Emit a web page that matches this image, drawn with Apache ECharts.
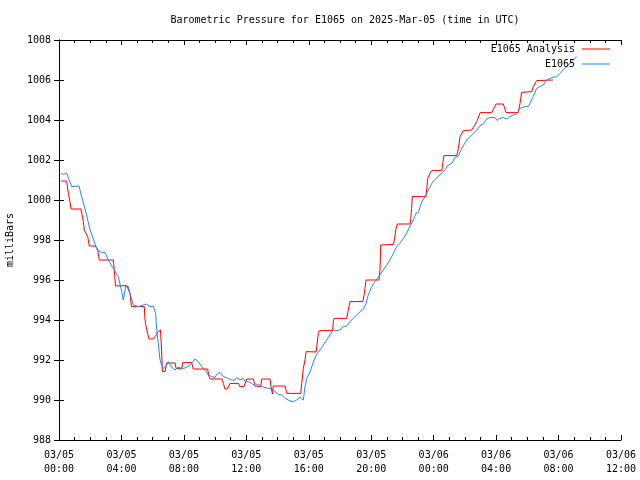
<!DOCTYPE html>
<html>
<head>
<meta charset="utf-8">
<script src="https://cdn.jsdelivr.net/npm/echarts@6/dist/echarts.min.js"></script>
<style>html,body{margin:0;padding:0;background:#fff}#c{width:640px;height:480px}</style>
</head>
<body>
<div id="c"></div>
<script>
// Hours since 2025-03-05 00:00 UTC
var analysisTimes = [0.13,0.49,0.6,0.7,0.77,1.41,1.56,1.62,1.73,1.84,1.94,2.35,2.48,2.58,3.48,3.54,3.62,4.34,4.55,4.64,5.46,5.51,5.62,5.77,6.04,6.15,6.36,6.5,6.57,6.62,6.79,6.9,7.43,7.5,7.86,7.92,8.5,8.6,9.52,9.61,9.67,10.44,10.53,10.63,10.79,10.95,11.49,11.6,11.85,12.02,12.45,12.56,12.92,12.99,13.52,13.58,13.67,13.73,14.48,14.59,15.48,15.55,15.65,15.76,15.83,16.47,16.51,16.61,16.68,17.53,17.57,17.62,18.43,18.53,18.64,19.46,19.54,19.6,19.67,20.5,20.56,20.61,21.42,21.48,21.59,21.67,22.49,22.53,22.59,22.63,23.51,23.55,23.62,23.77,23.88,24.52,24.58,24.66,25.48,25.58,25.69,25.9,26.44,26.54,26.76,26.97,27.72,27.82,27.99,28.46,28.64,29.42,29.53,29.64,30.28,30.38,30.6,31.65];
var analysisValues = [1000.95,1000.95,1000.33,999.92,999.55,999.55,998.92,998.5,998.45,998.17,997.7,997.7,997.5,997.0,997.0,996.5,995.7,995.72,995.33,994.67,994.67,994.0,993.5,993.05,993.05,993.17,993.42,993.5,992.5,991.42,991.42,991.85,991.85,991.58,991.55,991.87,991.87,991.55,991.55,991.17,991.05,991.05,990.83,990.55,990.55,990.83,990.83,990.67,990.67,991.05,991.05,990.7,990.67,991.05,991.05,990.67,990.3,990.7,990.7,990.33,990.33,990.83,991.58,992.0,992.42,992.4,992.67,993.33,993.47,993.47,993.92,994.08,994.08,994.5,994.92,994.92,995.25,995.58,996.0,996.0,996.5,997.75,997.78,998.0,998.58,998.8,998.8,999.08,999.58,1000.17,1000.17,1000.5,1001.08,1001.33,1001.47,1001.47,1001.83,1002.22,1002.22,1002.58,1003.17,1003.47,1003.5,1003.63,1003.92,1004.37,1004.37,1004.45,1004.8,1004.8,1004.37,1004.37,1004.83,1005.38,1005.42,1005.67,1005.97,1006.0];

var stationTimes = [0.13,0.28,0.49,0.6,0.81,1.28,1.45,1.77,1.99,2.26,2.42,2.74,2.95,3.16,3.48,3.8,4.02,4.12,4.27,4.44,4.55,4.76,5.08,5.4,5.62,5.83,6.04,6.15,6.19,6.26,6.36,6.47,6.58,6.68,6.79,6.9,7.0,7.22,7.43,7.6,7.96,8.18,8.5,8.71,8.92,9.14,9.35,9.56,9.78,9.99,10.1,10.31,10.53,10.85,11.06,11.27,11.38,11.6,11.81,11.92,12.13,12.34,12.56,12.77,12.99,13.2,13.41,13.63,13.84,14.05,14.27,14.48,14.8,15.01,15.23,15.44,15.55,15.65,15.76,15.87,16.08,16.29,16.51,16.72,16.93,17.15,17.36,17.57,17.79,18.0,18.21,18.43,18.64,18.85,19.07,19.28,19.49,19.67,19.81,20.03,20.24,20.56,20.78,20.99,21.2,21.42,21.63,21.84,22.06,22.27,22.49,22.7,22.87,23.02,23.13,23.24,23.45,23.66,23.88,24.09,24.3,24.52,24.73,24.94,25.16,25.37,25.58,25.8,26.12,26.44,26.76,26.97,27.18,27.4,27.61,27.93,28.08,28.25,28.46,28.68,28.89,29.1,29.32,29.53,29.85,30.07,30.17,30.38,30.6,30.81,31.02,31.24,31.56,31.88,32.09,32.31,32.52,32.74,32.95,33.16];
var stationValues = [1001.33,1001.28,1001.35,1001.33,1000.67,1000.7,1000.17,999.25,998.5,997.92,997.53,997.38,997.37,997.0,996.58,996.17,995.42,995.0,995.7,995.67,995.33,994.75,994.67,994.75,994.8,994.67,994.7,994.8,994.33,993.5,992.83,992.0,991.75,991.58,991.5,991.75,991.92,991.63,991.5,991.63,991.58,991.63,991.83,992.05,991.92,991.67,991.5,991.25,991.17,991.12,991.28,991.38,991.17,991.08,991.0,991.0,991.12,991.0,991.08,990.92,990.92,990.83,990.72,990.78,990.67,990.62,990.58,990.58,990.42,990.28,990.25,990.08,989.95,989.92,990.0,990.15,990.08,990.0,990.67,991.08,991.4,991.9,992.3,992.5,992.75,993.0,993.25,993.5,993.47,993.5,993.67,993.7,993.92,994.08,994.25,994.42,994.53,994.83,995.25,995.67,995.92,996.25,996.5,996.75,997.0,997.33,997.67,997.83,998.08,998.33,998.7,999.0,999.33,999.37,999.67,999.92,1000.17,1000.5,1000.83,1001.03,1001.17,1001.33,1001.53,1001.75,1001.83,1002.13,1002.2,1002.58,1003.0,1003.25,1003.5,1003.72,1003.8,1004.05,1004.13,1004.12,1003.97,1004.08,1004.12,1004.05,1004.17,1004.25,1004.3,1004.58,1004.67,1004.67,1004.83,1005.17,1005.58,1005.67,1005.75,1006.0,1006.12,1006.17,1006.33,1006.5,1006.67,1006.83,1007.0,1007.17];

var xTickLabels = ["03/05\n00:00","03/05\n04:00","03/05\n08:00","03/05\n12:00","03/05\n16:00","03/05\n20:00","03/06\n00:00","03/06\n04:00","03/06\n08:00","03/06\n12:00"];
var seriesNames = ["E1065 Analysis","E1065"];
var titleText = "Barometric Pressure for E1065 on 2025-Mar-05 (time in UTC)";
var yName = "milliBars";

function zip(t, v){ var out=[]; for (var i=0;i<t.length;i++) out.push([t[i], v[i]]); return out; }
var FONT = '"DejaVu Sans Mono", "Liberation Mono", monospace';

var chart = echarts.init(document.getElementById('c'), null, {renderer:'canvas'});
var tickCommon = {show:true, inside:true, length:5, lineStyle:{color:'#000'}};
var minorCommon = {show:true, splitNumber:4, length:3, lineStyle:{color:'#000'}};
var legendText = {fontFamily:FONT, fontSize:10, color:'#000', padding:[0,2,0,0]};
chart.setOption({
  animation:false,
  backgroundColor:'#fff',
  title:{text:titleText, left:340, top:10, textAlign:'center',
         textStyle:{fontFamily:FONT, fontSize:10, fontWeight:'normal', color:'#000'}},
  legend:[
    {data:[seriesNames[0]], right:30, top:44, orient:'vertical', align:'right', icon:'rect', itemWidth:28, itemHeight:1, itemGap:0,
     textStyle:legendText, padding:0, selectedMode:false},
    {data:[seriesNames[1]], right:30, top:59, orient:'vertical', align:'right', icon:'rect', itemWidth:28, itemHeight:1, itemGap:0,
     textStyle:legendText, padding:0, selectedMode:false}
  ],
  grid:{left:59, right:19, top:40, bottom:40, containLabel:false, outerBoundsMode:'none'},
  xAxis:[
    {type:'value', min:0, max:36, interval:4, position:'bottom',
     axisLine:{show:true, lineStyle:{color:'#000', width:1}},
     axisTick:tickCommon, minorTick:minorCommon, splitLine:{show:false},
     axisLabel:{fontFamily:FONT, fontSize:10, color:'#000', margin:8, lineHeight:14,
       formatter:function(v){ return xTickLabels[Math.round(v/4)] || ''; }}},
    {type:'value', min:0, max:36, interval:4, position:'top',
     axisLine:{show:true, lineStyle:{color:'#000', width:1}},
     axisTick:tickCommon, minorTick:minorCommon, splitLine:{show:false}, axisLabel:{show:false}}
  ],
  yAxis:[
    {type:'value', min:988, max:1008, interval:2, position:'left',
     name:yName, nameLocation:'middle', nameRotate:90, nameGap:44,
     nameTextStyle:{fontFamily:FONT, fontSize:10, color:'#000'},
     axisLine:{show:true, lineStyle:{color:'#000', width:1}},
     axisTick:tickCommon, splitLine:{show:false},
     axisLabel:{fontFamily:FONT, fontSize:10, color:'#000', margin:8,
       formatter:function(v){ return String(v); }}},
    {type:'value', min:988, max:1008, interval:2, position:'right',
     axisLine:{show:true, lineStyle:{color:'#000', width:1}},
     axisTick:tickCommon, splitLine:{show:false}, axisLabel:{show:false}}
  ],
  series:[
    {name:seriesNames[0], type:'line', xAxisIndex:0, yAxisIndex:0, symbol:'none', data:zip(analysisTimes, analysisValues),
     lineStyle:{color:'#ff0000', width:1}, itemStyle:{color:'#ff0000'}},
    {name:seriesNames[1], type:'line', xAxisIndex:0, yAxisIndex:0, symbol:'none', data:zip(stationTimes, stationValues),
     lineStyle:{color:'#1e88ff', width:1}, itemStyle:{color:'#1e88ff'}}
  ]
});
</script>
</body>
</html>
